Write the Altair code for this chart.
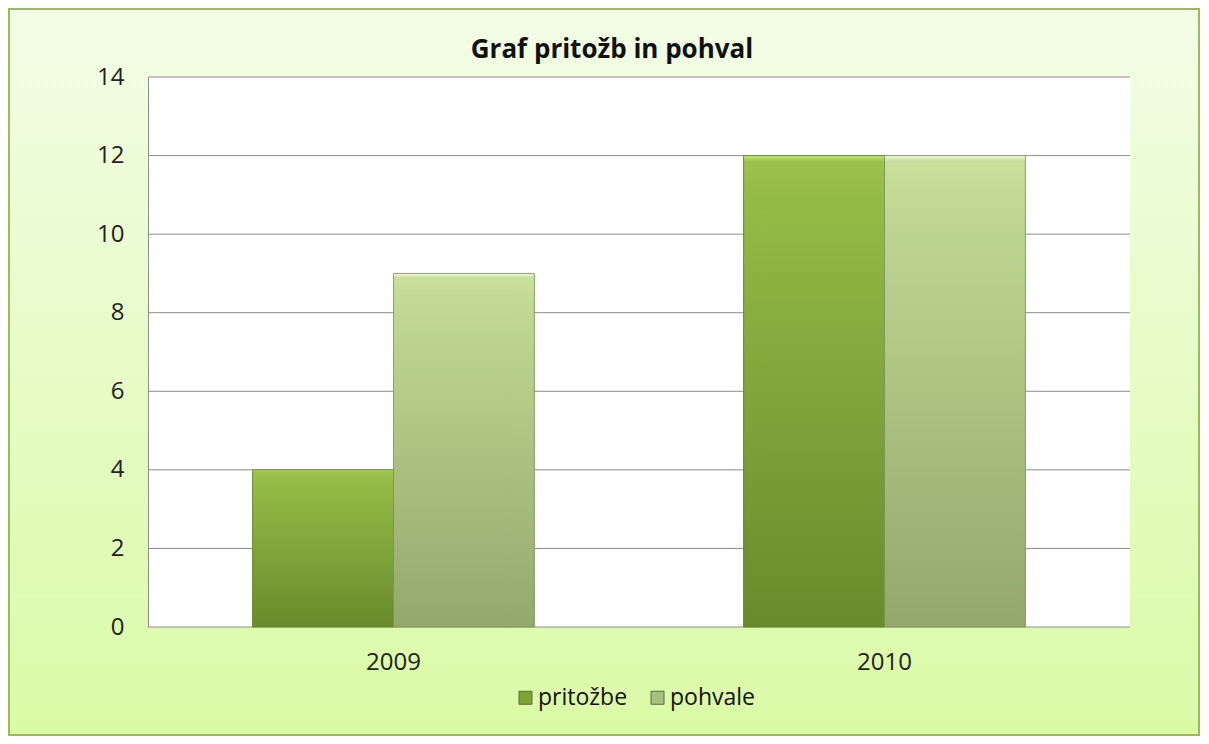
import altair as alt
import pandas as pd

# ---- data ----
years = ["2009", "2010"]
series_names = ["pritožbe", "pohvale"]
pritozbe = [4, 12]
pohvale = [9, 12]
y_ticks = [0, 2, 4, 6, 8, 10, 12, 14]

# ---- layout ----
W, H = 982, 550
PL, PT, PR, PB = 140, 69, 70, 109
FONT = "Open Sans"

rows = []
for i, yr in enumerate(years):
    rows.append({"leto": yr, "serija": series_names[0], "vrednost": pritozbe[i]})
    rows.append({"leto": yr, "serija": series_names[1], "vrednost": pohvale[i]})
df = pd.DataFrame(rows)
grid_df = pd.DataFrame({"vrednost": y_ticks})


def vgrad(stops):
    return alt.Gradient(
        gradient="linear",
        stops=[alt.GradientStop(color=c, offset=o) for o, c in stops],
        x1=0, x2=0, y1=0, y2=1,
    )


bg_grad = vgrad([(0, "#f2fde6"), (1, "#dbfaa6")])
g_pri = vgrad([(0, "#c6e878"), (0.012, "#9cc24c"), (0.1, "#94ba46"), (1, "#6a8a2c")])
g_poh = vgrad([(0, "#f0fcd8"), (0.012, "#c8e09c"), (0.1, "#c0d894"), (1, "#94a86c")])

x_enc = alt.X(
    "leto:N",
    scale=alt.Scale(domain=years, paddingInner=0.426, paddingOuter=0.213),
    axis=alt.Axis(title=None, labelAngle=0, ticks=False, domain=False,
                  labelPadding=23, labelFontSize=24, labelFont=FONT,
                  labelColor="#222222", zindex=2),
)
xo_enc = alt.XOffset("serija:N", scale=alt.Scale(domain=series_names, paddingInner=0, paddingOuter=0))
y_axis = alt.Axis(title=None, values=y_ticks, grid=False, ticks=False, domain=True,
                  domainColor="#8c8c8c", labelPadding=24, labelFontSize=24,
                  labelFont=FONT, labelColor="#222222", zindex=2)
y_scale = alt.Scale(domain=[0, 14], nice=False)


def y_enc():
    return alt.Y("vrednost:Q", scale=y_scale, axis=y_axis)


one = pd.DataFrame({"k": [0]})

bg = alt.Chart(one).mark_rect(fill=bg_grad, stroke="#9bbb59", strokeWidth=2).encode(
    x=alt.value(-PL + 1), x2=alt.value(W + PR - 1),
    y=alt.value(-PT + 1), y2=alt.value(H + PB - 1),
)
plot_bg = alt.Chart(one).mark_rect(fill="white").encode(
    x=alt.value(0), x2=alt.value(W), y=alt.value(0), y2=alt.value(H),
)
grid = alt.Chart(grid_df).mark_rule(color="#8c8c8c", strokeWidth=1).encode(y=y_enc())

bars_legend = alt.Chart(df).mark_bar().encode(
    x=x_enc, xOffset=xo_enc, y=y_enc(),
    color=alt.Color(
        "serija:N",
        scale=alt.Scale(domain=series_names, range=["#7fa336", "#aabf84"]),
        legend=alt.Legend(
            title=None, orient="none", legendX=366, legendY=609,
            direction="horizontal", symbolType="square", symbolSize=169,
            symbolStrokeColor="#5b6f33", symbolStrokeWidth=1,
            labelFontSize=23, labelFont=FONT, labelColor="#111111",
            labelOffset=1, columnPadding=18, zindex=2,
        ),
    ),
)
bars_pri = alt.Chart(df).transform_filter(alt.datum.serija == series_names[0]).mark_bar(
    fill=g_pri, stroke="#5f7d25", strokeWidth=1, strokeOpacity=0.8
).encode(x=x_enc, xOffset=xo_enc, y=y_enc())
bars_poh = alt.Chart(df).transform_filter(alt.datum.serija == series_names[1]).mark_bar(
    fill=g_poh, stroke="#7f905c", strokeWidth=1, strokeOpacity=0.8
).encode(x=x_enc, xOffset=xo_enc, y=y_enc())

chart = alt.layer(bg, plot_bg, grid, bars_legend, bars_pri, bars_poh).properties(
    width=W, height=H,
    autosize="none",
    padding={"left": PL, "top": PT, "right": PR, "bottom": PB},
    title=alt.TitleParams("Graf pritožb in pohval", fontSize=26, font=FONT,
                          fontWeight="bold", color="#111111", anchor="middle",
                          offset=-55, dx=-27, zindex=2),
).configure_view(stroke=None).configure(background="white")

chart.save("out.html", embed_options={"renderer": "svg", "actions": False})
